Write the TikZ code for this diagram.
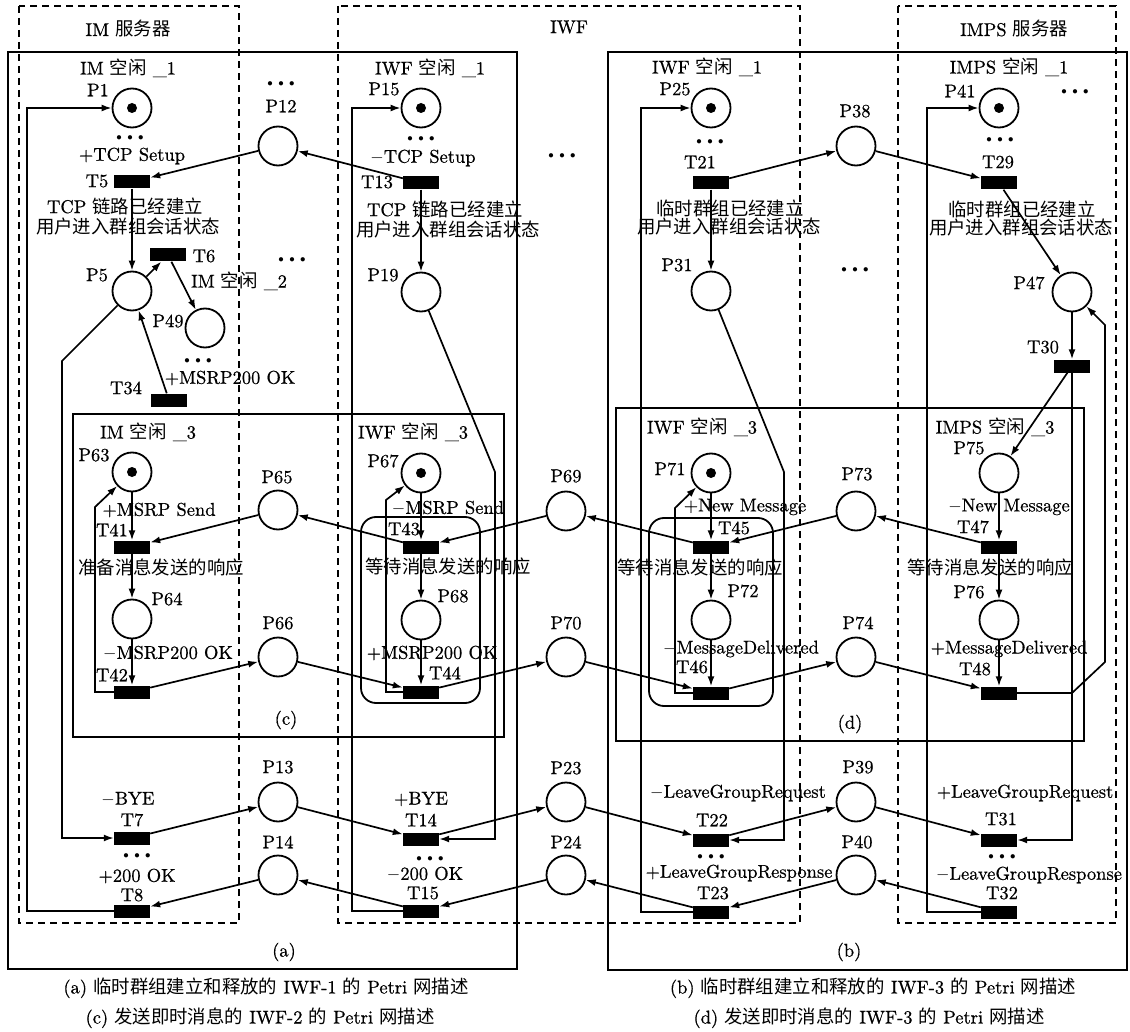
\documentclass[tikz,border=0pt]{standalone}
\usepackage{fontspec}
\usetikzlibrary{arrows.meta}
\setmainfont{lmroman10-regular.otf}[FakeBold=0.6]
\newfontfamily\cjk{Noto Sans CJK SC}
\newcommand\zh[1]{{\cjk\fontsize{18.4}{20}\selectfont #1}}
\newcommand\fs{\fontsize{18.5}{20}\selectfont}
\newcommand\tdots{{\fontsize{10.5}{10}\selectfont$\bullet\mkern5mu\bullet\mkern5mu\bullet$}}
\tikzset{
  place/.style={circle,draw,line width=1.8pt,minimum size=39pt,inner sep=0pt},
  tok/.style={circle,fill=black,minimum size=10pt,inner sep=0pt},
  trans/.style={rectangle,fill=black,minimum width=36pt,minimum height=13pt,inner sep=0pt},
  txt/.style={font=\fs,inner sep=0pt},
  dotsn/.style={inner sep=0pt},
  arr/.style={line width=1.7pt,-{Latex[length=10pt,width=7pt]}},
  dbox/.style={dash pattern=on 7pt off 5pt,line width=1.4pt},
  sbox/.style={line width=1.8pt},
}
\begin{document}
\begin{tikzpicture}[x=1pt,y=-1pt]
\useasboundingbox (0,0) rectangle (1130,1032);
% frames
\draw[dbox] (19,6) rectangle (239,923);
\draw[dbox] (338,6) rectangle (800,923);
\draw[dbox] (898,6) rectangle (1116,923);
\draw[sbox] (8,52) rectangle (517,969);
\draw[sbox] (608,52) rectangle (1127,970);
\draw[sbox] (73,414) rectangle (504,737);
\draw[sbox] (616,408) rectangle (1084,741);
\draw[sbox,rounded corners=15pt] (361,517) rectangle (480,703);
\draw[sbox,rounded corners=15pt] (649,518) rectangle (773,706);

% places
\node[place] (P1) at (132,108) {}; \node[tok] (P1k) at (P1) {};
\node[place] (P12) at (278,146) {};
\node[place] (P5) at (132,291) {};
\node[place] (P49) at (205,328) {};
\node[place] (P15) at (421,108) {}; \node[tok] (P15k) at (P15) {};
\node[place] (P19) at (421,292) {};
\node[place] (P25) at (711,108) {}; \node[tok] (P25k) at (P25) {};
\node[place] (P38) at (856,146) {};
\node[place] (P31) at (711,291) {};
\node[place] (P41) at (999,108) {}; \node[tok] (P41k) at (P41) {};
\node[place] (P47) at (1072,292) {};
\node[place] (P63) at (132,472) {}; \node[tok] (P63k) at (P63) {};
\node[place] (P64) at (132,619) {};
\node[place] (P65) at (278,510) {};
\node[place] (P66) at (278,657) {};
\node[place] (P67) at (421,473) {}; \node[tok] (P67k) at (P67) {};
\node[place] (P68) at (421,620) {};
\node[place] (P69) at (566,511) {};
\node[place] (P70) at (566,657) {};
\node[place] (P71) at (711,473) {}; \node[tok] (P71k) at (P71) {};
\node[place] (P72) at (711,620) {};
\node[place] (P73) at (856,511) {};
\node[place] (P74) at (856,657) {};
\node[place] (P75) at (999,473) {};
\node[place] (P76) at (999,620) {};
\node[place] (P13) at (278,802) {};
\node[place] (P14) at (278,875) {};
\node[place] (P23) at (566,802) {};
\node[place] (P24) at (566,875) {};
\node[place] (P39) at (856,802) {};
\node[place] (P40) at (856,875) {};

% transitions
\node[trans] (T5) at (132,182) {};
\node[trans] (T6) at (168,255) {};
\node[trans] (T34) at (169,400) {};
\node[trans] (T13) at (421,183) {};
\node[trans] (T21) at (711,183) {};
\node[trans] (T29) at (999,183) {};
\node[trans] (T30) at (1072,366) {};
\node[trans] (T41) at (132,547) {};
\node[trans] (T42) at (132,692) {};
\node[trans] (T43) at (421,547) {};
\node[trans] (T44) at (421,692) {};
\node[trans] (T45) at (711,547) {};
\node[trans] (T46) at (711,693) {};
\node[trans] (T47) at (999,547) {};
\node[trans] (T48) at (999,693) {};
\node[trans] (T7) at (132,838) {};
\node[trans] (T8) at (132,911) {};
\node[trans] (T14) at (421,839) {};
\node[trans] (T15) at (421,911) {};
\node[trans] (T22) at (711,840) {};
\node[trans] (T23) at (711,912) {};
\node[trans] (T31) at (999,840) {};
\node[trans] (T32) at (999,912) {};

% place labels
\node[txt] (lP1) at (98,90) {P1};
\node[txt] (lP12) at (281,106) {P12};
\node[txt] (lP5) at (97,275) {P5};
\node[txt] (lP49) at (168,321) {P49};
\node[txt] (lP15) at (384,89) {P15};
\node[txt] (lP19) at (383,275) {P19};
\node[txt] (lP25) at (675,89) {P25};
\node[txt] (lP38) at (855,111) {P38};
\node[txt] (lP31) at (677,265) {P31};
\node[txt] (lP41) at (960,91) {P41};
\node[txt] (lP47) at (1029,283) {P47};
\node[txt] (lP63) at (94,455) {P63};
\node[txt] (lP64) at (167,599) {P64};
\node[txt] (lP65) at (277,477) {P65};
\node[txt] (lP66) at (278,623) {P66};
\node[txt] (lP67) at (383,461) {P67};
\node[txt] (lP68) at (453,596) {P68};
\node[txt] (lP69) at (566,476) {P69};
\node[txt] (lP70) at (566,623) {P70};
\node[txt] (lP71) at (670,469) {P71};
\node[txt] (lP72) at (743,591) {P72};
\node[txt] (lP73) at (857,474) {P73};
\node[txt] (lP74) at (858,623) {P74};
\node[txt] (lP75) at (969,448) {P75};
\node[txt] (lP76) at (969,592) {P76};
\node[txt] (lP13) at (278,767) {P13};
\node[txt] (lP14) at (278,842) {P14};
\node[txt] (lP23) at (566,768) {P23};
\node[txt] (lP24) at (566,842) {P24};
\node[txt] (lP39) at (858,767) {P39};
\node[txt] (lP40) at (857,842) {P40};

% transition labels
\node[txt] (lT5) at (97,181) {T5};
\node[txt] (lT6) at (204,256) {T6};
\node[txt] (lT34) at (126,388) {T34};
\node[txt] (lT13) at (377,182) {T13};
\node[txt] (lT21) at (700,162) {T21};
\node[txt] (lT29) at (998,162) {T29};
\node[txt] (lT30) at (1043,347) {T30};
\node[txt] (lT41) at (112,530) {T41};
\node[txt] (lT42) at (112,675) {T42};
\node[txt] (lT43) at (404,529) {T43};
\node[txt] (lT44) at (445,673) {T44};
\node[txt] (lT45) at (734,528) {T45};
\node[txt] (lT46) at (692,667) {T46};
\node[txt] (lT47) at (973,527) {T47};
\node[txt] (lT48) at (975,669) {T48};
\node[txt] (lT7) at (132,820) {T7};
\node[txt] (lT8) at (132,895) {T8};
\node[txt] (lT14) at (421,820) {T14};
\node[txt] (lT15) at (423,893) {T15};
\node[txt] (lT22) at (712,820) {T22};
\node[txt] (lT23) at (713,893) {T23};
\node[txt] (lT31) at (1001,819) {T31};
\node[txt] (lT32) at (1002,893) {T32};

% headings
\node[txt] (h1) at (128,29) {IM \zh{服务器}};
\node[txt] (h2) at (569,27) {IWF};
\node[txt] (h3) at (1014,29) {IMPS \zh{服务器}};
\node[txt] (s1) at (128,68) {IM \zh{空闲} \_1};
\node[txt] (s2) at (430,68) {IWF \zh{空闲} \_1};
\node[txt] (s3) at (707,67) {IWF \zh{空闲} \_1};
\node[txt] (s4) at (1009,67) {IMPS \zh{空闲} \_1};
\node[txt] (s5) at (239,281) {IM \zh{空闲} \_2};
\node[txt] (s6) at (148,432) {IM \zh{空闲} \_3};
\node[txt] (s7) at (413,432) {IWF \zh{空闲} \_3};
\node[txt] (s8) at (702,427) {IWF \zh{空闲} \_3};
\node[txt] (s9) at (995,427) {IMPS \zh{空闲} \_3};

% event labels
\node[txt] (e1) at (132,156) {+TCP Setup};
\node[txt] (e2) at (423,158) {$-$TCP Setup};
\node[txt] (e3) at (230,378) {+MSRP200 OK};
\node[txt] (e4) at (159,510) {+MSRP Send};
\node[txt] (e5) at (448,508) {$-$MSRP Send};
\node[txt] (e6) at (745,507) {+New Message};
\node[txt] (e7) at (1009,507) {$-$New Message};
\node[txt] (e8) at (168,653) {$-$MSRP200 OK};
\node[txt] (e9) at (432,653) {+MSRP200 OK};
\node[txt] (e10) at (741,649) {$-$MessageDelivered};
\node[txt] (e11) at (1009,649) {+MessageDelivered};
\node[txt] (e12) at (128,799) {$-$BYE};
\node[txt] (e13) at (421,799) {+BYE};
\node[txt] (e14) at (137,876) {+200 OK};
\node[txt] (e15) at (425,874) {$-$200 OK};
\node[txt] (e16) at (738,793) {$-$LeaveGroupRequest};
\node[txt] (e17) at (1025,793) {+LeaveGroupRequest};
\node[txt] (e18) at (739,873) {+LeaveGroupResponse};
\node[txt] (e19) at (1029,875) {$-$LeaveGroupResponse};

% state texts
\node[txt] (c1a) at (125,206) {TCP \zh{链路已经建立}};
\node[txt] (c1b) at (128,227) {\zh{用户进入群组会话状态}};
\node[txt] (c2a) at (445,209) {TCP \zh{链路已经建立}};
\node[txt] (c2b) at (448,230) {\zh{用户进入群组会话状态}};
\node[txt] (c3a) at (730,208) {\zh{临时群组已经建立}};
\node[txt] (c3b) at (729,227) {\zh{用户进入群组会话状态}};
\node[txt] (c4a) at (1022,209) {\zh{临时群组已经建立}};
\node[txt] (c4b) at (1021,228) {\zh{用户进入群组会话状态}};
\node[txt] (c5) at (161,567) {\zh{准备消息发送的响应}};
\node[txt] (c6) at (448,566) {\zh{等待消息发送的响应}};
\node[txt] (c7) at (700,567) {\zh{等待消息发送的响应}};
\node[txt] (c8) at (990,567) {\zh{等待消息发送的响应}};

% sub labels and captions
\node[txt] (la) at (284,952) {(a)};
\node[txt] (lb) at (849,952) {(b)};
\node[txt] (lc) at (286,720) {(c)};
\node[txt] (ld) at (850,724) {(d)};
\node[txt] (cap1) at (266,988) {(a) \zh{临时群组建立和释放的} IWF-1 \zh{的} Petri \zh{网描述}};
\node[txt] (cap2) at (260,1018) {(c) \zh{发送即时消息的} IWF-2 \zh{的} Petri \zh{网描述}};
\node[txt] (cap3) at (873,988) {(b) \zh{临时群组建立和释放的} IWF-3 \zh{的} Petri \zh{网描述}};
\node[txt] (cap4) at (869,1018) {(d) \zh{发送即时消息的} IWF-3 \zh{的} Petri \zh{网描述}};

% dots
\node[dotsn] (d1) at (130,138) {\tdots};
\node[dotsn] (d2) at (281,84) {\tdots};
\node[dotsn] (d3) at (292,260) {\tdots};
\node[dotsn] (d4) at (198,361) {\tdots};
\node[dotsn] (d5) at (421,139) {\tdots};
\node[dotsn] (d6) at (562,156) {\tdots};
\node[dotsn] (d7) at (710,142) {\tdots};
\node[dotsn] (d8) at (1075,92) {\tdots};
\node[dotsn] (d9) at (1000,140) {\tdots};
\node[dotsn] (d10) at (855,270) {\tdots};
\node[dotsn] (d11) at (137,856) {\tdots};
\node[dotsn] (d12) at (430,859) {\tdots};
\node[dotsn] (d13) at (711,857) {\tdots};
\node[dotsn] (d14) at (1002,857) {\tdots};

% connectors: top part (a)
\draw[arr] (P12) -- (T5);
\draw[arr] (T13) -- (P12);
\draw[arr] (T5) -- (P5);
\draw[arr] (P5) -- (T6);
\draw[arr] (T6) -- (P49);
\draw[arr] (T34) -- (P5);
\draw[arr] (P5) -- (62,361) |- (T7.west);
\draw[arr] (T13) -- (P19);
\draw[arr] (P19) -- (495,472) |- (T14.east);
\draw[arr] (T8.west) -- (27,911) |- (P1.west);
\draw[arr] (T15.west) -- (352,911) |- (P15.west);
% top part (b)
\draw[arr] (T21) -- (P31);
\draw[arr] (P31) -- (784,472) |- (T22.east);
\draw[arr] (T21) -- (P38);
\draw[arr] (P38) -- (T29);
\draw[arr] (T29) -- (P47);
\draw[arr] (P47) -- (T30);
\draw[arr] (T30) -- (P75);
\draw[arr] (T30.south) |- (T31.east);
\draw[arr] (T48.east) -- (1072,693) -- (1105,662) -- (1105,325) -- (P47);
\draw[arr] (T23.west) -- (641,912) |- (P25.west);
\draw[arr] (T32.west) -- (927,912) |- (P41.west);
% (c)
\draw[arr] (P63) -- (T41);
\draw[arr] (T41) -- (P64);
\draw[arr] (P64) -- (T42);
\draw[arr] (T42.west) -- (95,692) -- (95,507) -- (P63);
\draw[arr] (P65) -- (T41);
\draw[arr] (T43) -- (P65);
\draw[arr] (T42) -- (P66);
\draw[arr] (P66) -- (T44);
\draw[arr] (P67) -- (T43);
\draw[arr] (T43) -- (P68);
\draw[arr] (P68) -- (T44);
\draw[arr] (T44.west) -- (386,692) -- (386,500) -- (P67);
\draw[arr] (P69) -- (T43);
\draw[arr] (T44) -- (P70);
% (d)
\draw[arr] (T45) -- (P69);
\draw[arr] (P73) -- (T45);
\draw[arr] (P70) -- (T46);
\draw[arr] (T46) -- (P74);
\draw[arr] (P71) -- (T45);
\draw[arr] (T45) -- (P72);
\draw[arr] (P72) -- (T46);
\draw[arr] (T46.west) -- (675,693) -- (675,508) -- (P71);
\draw[arr] (T47) -- (P73);
\draw[arr] (P75) -- (T47);
\draw[arr] (T47) -- (P76);
\draw[arr] (P76) -- (T48);
\draw[arr] (P74) -- (T48);
% bottom
\draw[arr] (T7) -- (P13);
\draw[arr] (P13) -- (T14);
\draw[arr] (T14) -- (P23);
\draw[arr] (P14) -- (T8);
\draw[arr] (T15) -- (P14);
\draw[arr] (P24) -- (T15);
\draw[arr] (P23) -- (T22);
\draw[arr] (T22) -- (P39);
\draw[arr] (T23) -- (P24);
\draw[arr] (P40) -- (T23);
\draw[arr] (P39) -- (T31);
\draw[arr] (T32) -- (P40);
\end{tikzpicture}
\end{document}
